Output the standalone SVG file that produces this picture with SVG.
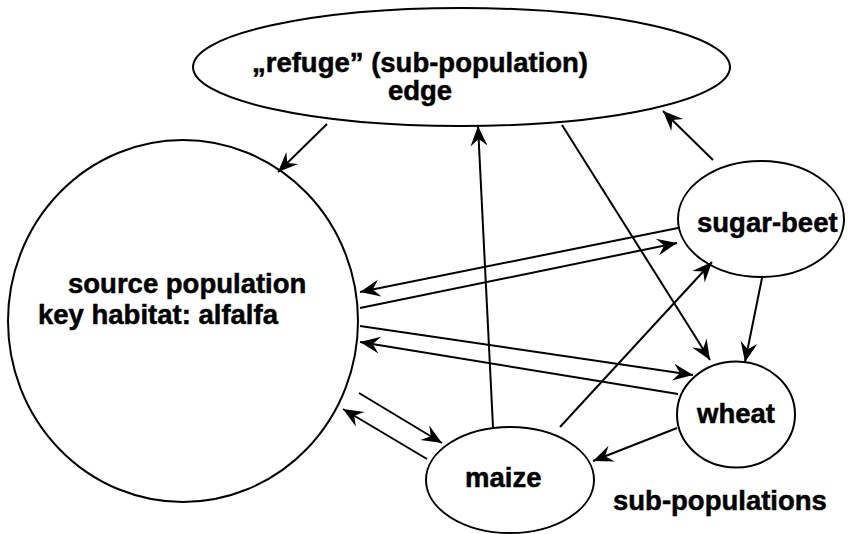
<svg xmlns="http://www.w3.org/2000/svg" width="851" height="534" viewBox="0 0 851 534">
<style>
.node{fill:#fff;stroke:#000;stroke-width:2}
.lbl{font-family:"Liberation Sans",Arial,Helvetica,sans-serif;font-weight:bold;font-size:27.5px;fill:#000;stroke:#000;stroke-width:0.5}
.c line{stroke:#000;stroke-width:2;fill:none;marker-end:url(#ah)}
</style>
<defs>
<marker id="ah" markerUnits="userSpaceOnUse" viewBox="-21 -10 22 20" refX="0" refY="0" markerWidth="22" markerHeight="20" orient="auto">
<path d="M0,0 L-20,-8.5 L-13,0 L-20,8.5 Z" fill="#000"/>
</marker>
</defs>
<rect width="851" height="534" fill="#fff"/>
<g id="refuge"><ellipse class="node" cx="461.5" cy="67" rx="268.5" ry="59"/>
<text class="lbl" x="420" y="72" text-anchor="middle">„refuge” (sub-population)</text>
<text class="lbl" x="420" y="100" text-anchor="middle">edge</text></g>
<g id="source"><ellipse class="node" cx="183" cy="321" rx="175" ry="181"/>
<text class="lbl" x="68" y="293">source population</text>
<text class="lbl" x="38" y="324">key habitat: alfalfa</text></g>
<g id="sugarbeet"><ellipse class="node" cx="761" cy="219" rx="83" ry="58"/>
<text class="lbl" x="697" y="232">sugar-beet</text></g>
<g id="wheat"><ellipse class="node" cx="736" cy="414.5" rx="59" ry="53"/>
<text class="lbl" x="697" y="423">wheat</text></g>
<g id="maize"><ellipse class="node" cx="510" cy="480" rx="84" ry="53"/>
<text class="lbl" x="465" y="487">maize</text></g>
<text id="subpop" class="lbl" x="613" y="510">sub-populations</text>
<g id="connectors" class="c">
<line x1="327" y1="124" x2="278" y2="172"/>
<line x1="493" y1="427" x2="478" y2="126"/>
<line x1="562" y1="125" x2="710" y2="360"/>
<line x1="713" y1="160" x2="663" y2="111"/>
<line x1="678" y1="228" x2="360" y2="292"/>
<line x1="360" y1="308" x2="677" y2="243"/>
<line x1="360" y1="326" x2="693" y2="375"/>
<line x1="678" y1="394" x2="360" y2="342"/>
<line x1="560" y1="427" x2="712" y2="262"/>
<line x1="762" y1="278" x2="745" y2="362"/>
<line x1="677" y1="428" x2="593" y2="461"/>
<line x1="359" y1="393" x2="442" y2="443"/>
<line x1="427" y1="459" x2="343" y2="409"/>
</g>
</svg>
